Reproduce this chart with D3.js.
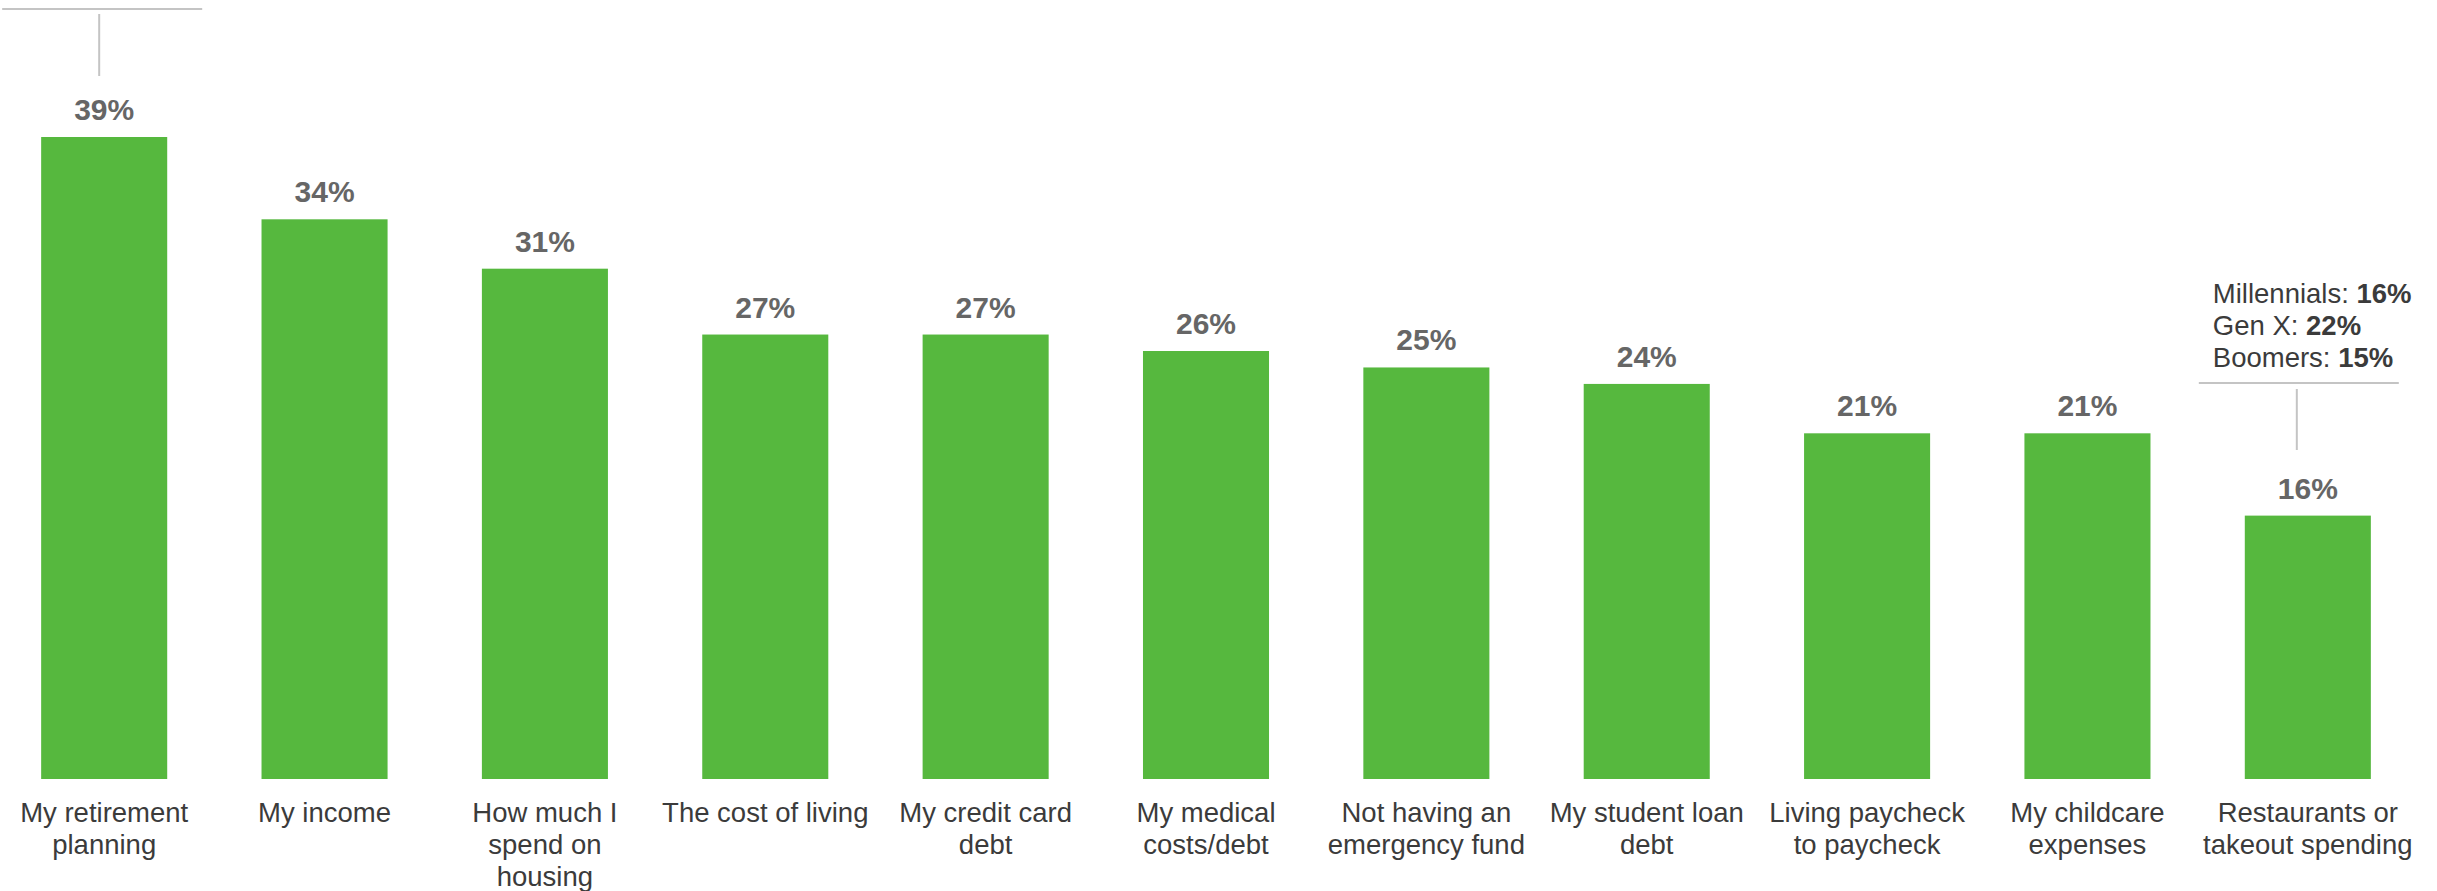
<!DOCTYPE html>
<html>
<head>
<meta charset="utf-8">
<script src="https://cdn.jsdelivr.net/npm/d3@7"></script>
<style>
    html, body { margin: 0; padding: 0; background: #fff; }
    svg { display: block; font-family: "Liberation Sans", Arial, sans-serif; }
    text.value { font-size: 30px; font-weight: bold; fill: #666; }
    text.cat { font-size: 27.5px; fill: #3b3b3b; }
    text.note { font-size: 27.5px; fill: #3b3b3b; }
    line.callout { stroke: #c4c4c4; stroke-width: 2px; }
</style>
</head>
<body>
<div id="chart"></div>
<script>
    var categories = [
        "My retirement\nplanning",
        "My income",
        "How much I\nspend on\nhousing",
        "The cost of living",
        "My credit card\ndebt",
        "My medical\ncosts/debt",
        "Not having an\nemergency fund",
        "My student loan\ndebt",
        "Living paycheck\nto paycheck",
        "My childcare\nexpenses",
        "Restaurants or\ntakeout spending"
    ];
    var values = [39, 34, 31, 27, 27, 26, 25, 24, 21, 21, 16];

    // generational breakdown shown above the last bar
    var noteLabels = ["Millennials: ", "Gen X: ", "Boomers: "];
    var noteValues = [16, 22, 15];

    var width = 2437, height = 891;
    var baseY = 779;

    var svg = d3.select("#chart").append("svg")
        .attr("width", width)
        .attr("height", height);

    var x = d3.scaleBand()
        .domain(categories)
        .range([-6, 2418])
        .paddingInner(0.428)
        .paddingOuter(0.214);

    var y = d3.scaleLinear()
        .domain([0, 39])
        .range([baseY, 137]);

    var data = categories.map(function (c, i) {
        return { cat: c, value: values[i] };
    });

    svg.selectAll("rect.bar")
        .data(data)
        .enter().append("rect")
        .attr("class", "bar")
        .attr("x", function (d) { return x(d.cat); })
        .attr("y", function (d) { return y(d.value); })
        .attr("width", x.bandwidth())
        .attr("height", function (d) { return baseY - y(d.value); })
        .style("fill", "#56b83e");

    svg.selectAll("text.value")
        .data(data)
        .enter().append("text")
        .attr("class", "value")
        .attr("text-anchor", "middle")
        .attr("x", function (d) { return x(d.cat) + x.bandwidth() / 2; })
        .attr("y", function (d) { return y(d.value) - 17; })
        .text(function (d) { return d.value + "%"; });

    var cats = svg.selectAll("text.cat")
        .data(data)
        .enter().append("text")
        .attr("class", "cat")
        .attr("text-anchor", "middle")
        .attr("x", function (d) { return x(d.cat) + x.bandwidth() / 2; })
        .attr("y", baseY + 43);

    cats.selectAll("tspan")
        .data(function (d) {
            return d.cat.split("\n").map(function (s) { return { t: s, cx: x(d.cat) + x.bandwidth() / 2 }; });
        })
        .enter().append("tspan")
        .attr("x", function (d) { return d.cx; })
        .attr("dy", function (d, i) { return i === 0 ? 0 : 32; })
        .text(function (d) { return d.t; });

    // callout above the first bar (its text sits off the top of the frame)
    var c0 = x(categories[0]) + x.bandwidth() / 2 - 5;
    svg.append("line").attr("class", "callout")
        .attr("x1", c0 - 97).attr("x2", c0 + 103).attr("y1", 9).attr("y2", 9);
    svg.append("line").attr("class", "callout")
        .attr("x1", c0).attr("x2", c0).attr("y1", 14).attr("y2", 76);

    // callout above the last bar
    var last = categories[categories.length - 1];
    var c1 = x(last) + x.bandwidth() / 2 - 11;
    svg.append("line").attr("class", "callout")
        .attr("x1", c1 - 98).attr("x2", c1 + 102).attr("y1", 383).attr("y2", 383);
    svg.append("line").attr("class", "callout")
        .attr("x1", c1).attr("x2", c1).attr("y1", 389).attr("y2", 450);

    var notes = svg.selectAll("text.note")
        .data(noteLabels)
        .enter().append("text")
        .attr("class", "note")
        .attr("x", c1 - 84)
        .attr("y", function (d, i) { return 303 + i * 32; });

    notes.append("tspan").text(function (d) { return d; });
    notes.append("tspan")
        .style("font-weight", "bold")
        .text(function (d, i) { return noteValues[i] + "%"; });
</script>
</body>
</html>
